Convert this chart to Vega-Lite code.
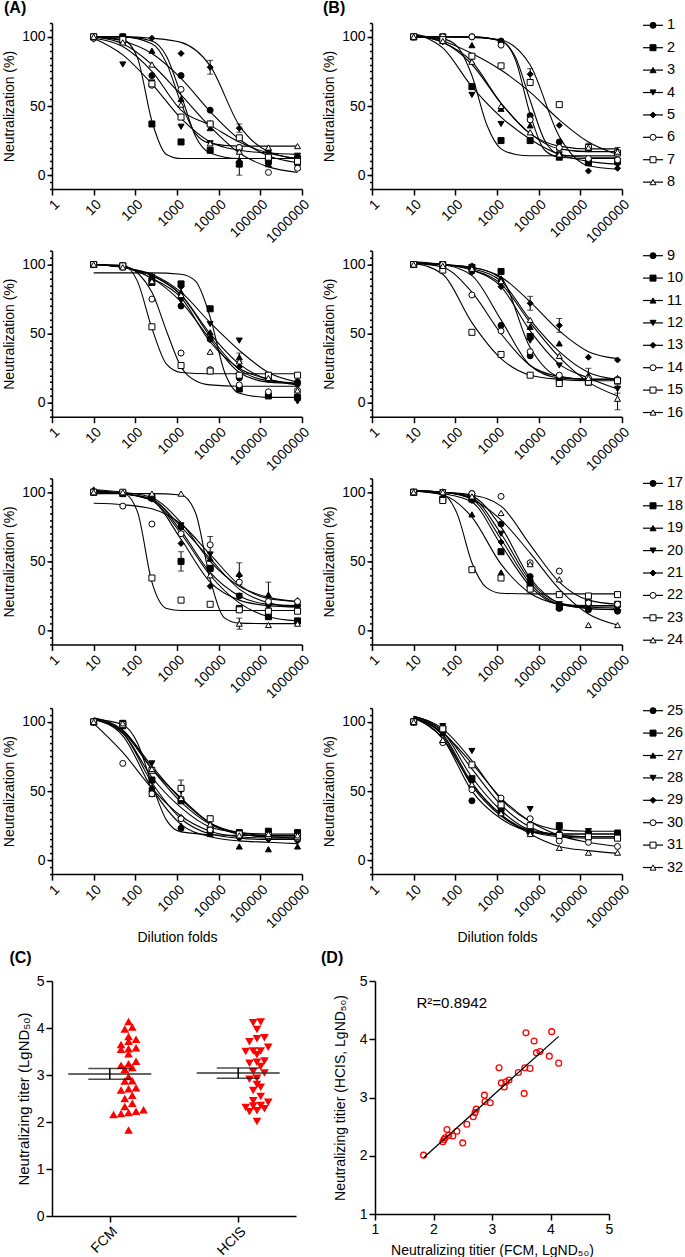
{
"$schema":"https://vega.github.io/schema/vega-lite/v6.json",
"background":"white",
"padding":{"left":2,"top":0,"right":0,"bottom":0},
"datasets":{
"lg":[{"n":1},{"n":2},{"n":3},{"n":4},{"n":5},{"n":6},{"n":7},{"n":8},{"n":9},{"n":10},{"n":11},{"n":12},{"n":13},{"n":14},{"n":15},{"n":16},{"n":17},{"n":18},{"n":19},{"n":20},{"n":21},{"n":22},{"n":23},{"n":24},{"n":25},{"n":26},{"n":27},{"n":28},{"n":29},{"n":30},{"n":31},{"n":32}],
"tt":[{"FCM":1.83,"HCIS":2.01},{"FCM":2.16,"HCIS":2.24},{"FCM":2.18,"HCIS":2.28},{"FCM":2.20,"HCIS":2.31},{"FCM":2.23,"HCIS":2.45},{"FCM":2.26,"HCIS":2.35},{"FCM":2.33,"HCIS":2.34},{"FCM":2.40,"HCIS":2.42},{"FCM":2.50,"HCIS":2.22},{"FCM":2.57,"HCIS":2.54},{"FCM":2.68,"HCIS":2.67},{"FCM":2.71,"HCIS":2.74},{"FCM":2.73,"HCIS":2.80},{"FCM":2.87,"HCIS":3.04},{"FCM":2.88,"HCIS":2.93},{"FCM":2.97,"HCIS":2.91},{"FCM":3.12,"HCIS":3.51},{"FCM":3.16,"HCIS":3.25},{"FCM":3.21,"HCIS":3.18},{"FCM":3.24,"HCIS":3.27},{"FCM":3.29,"HCIS":3.30},{"FCM":3.45,"HCIS":3.43},{"FCM":3.55,"HCIS":3.07},{"FCM":3.56,"HCIS":3.51},{"FCM":3.58,"HCIS":4.11},{"FCM":3.65,"HCIS":3.50},{"FCM":3.72,"HCIS":3.97},{"FCM":3.76,"HCIS":3.77},{"FCM":3.82,"HCIS":3.79},{"FCM":3.98,"HCIS":3.71},{"FCM":4.02,"HCIS":4.13},{"FCM":4.14,"HCIS":3.59}],
"nt":[
{"p":"A","n":1,"x":10,"y":100,"f":100},{"p":"A","n":1,"x":50,"y":100,"f":97},{"p":"A","n":1,"x":250,"y":72,"f":88},{"p":"A","n":1,"x":1250,"y":72,"f":70},{"p":"A","n":1,"x":6250,"y":47,"f":46},{"p":"A","n":1,"x":31250,"y":20,"f":26},{"p":"A","n":1,"x":156250,"y":13,"f":14},{"p":"A","n":1,"x":781250,"y":8,"f":9},
{"p":"A","n":2,"x":10,"y":100,"f":100},{"p":"A","n":2,"x":50,"y":100,"f":98},{"p":"A","n":2,"x":112,"f":85},{"p":"A","n":2,"x":250,"y":37,"f":39},{"p":"A","n":2,"x":559,"f":15},{"p":"A","n":2,"x":1250,"y":24,"f":12},{"p":"A","n":2,"x":6250,"y":18,"f":12},{"p":"A","n":2,"x":31250,"y":8,"f":12,"e":8},{"p":"A","n":2,"x":156250,"y":10,"f":12},{"p":"A","n":2,"x":781250,"y":12,"f":12},
{"p":"A","n":3,"x":10,"y":100,"f":100},{"p":"A","n":3,"x":50,"y":97,"f":100},{"p":"A","n":3,"x":250,"y":90,"f":97},{"p":"A","n":3,"x":559,"f":86},{"p":"A","n":3,"x":1250,"y":55,"f":58},{"p":"A","n":3,"x":2795,"f":28},{"p":"A","n":3,"x":6250,"y":34,"f":16},{"p":"A","n":3,"x":31250,"y":11,"f":12},{"p":"A","n":3,"x":156250,"y":8,"f":12},{"p":"A","n":3,"x":781250,"y":6,"f":12},
{"p":"A","n":4,"x":10,"y":98,"f":99},{"p":"A","n":4,"x":50,"y":80,"f":87},{"p":"A","n":4,"x":250,"y":67,"f":66},{"p":"A","n":4,"x":1250,"y":35,"f":41},{"p":"A","n":4,"x":6250,"y":23,"f":24},{"p":"A","n":4,"x":31250,"y":17,"f":18},{"p":"A","n":4,"x":156250,"y":15,"f":16},{"p":"A","n":4,"x":781250,"y":14,"f":15},
{"p":"A","n":5,"x":10,"y":100,"f":100},{"p":"A","n":5,"x":50,"y":100,"f":100},{"p":"A","n":5,"x":250,"y":99,"f":99},{"p":"A","n":5,"x":1250,"y":88,"f":96},{"p":"A","n":5,"x":6250,"y":78,"f":79,"e":5},{"p":"A","n":5,"x":31250,"y":34,"f":36,"e":3},{"p":"A","n":5,"x":156250,"y":18,"f":17},{"p":"A","n":5,"x":781250,"y":12,"f":12},
{"p":"A","n":6,"x":10,"y":99,"f":100},{"p":"A","n":6,"x":50,"y":97,"f":95},{"p":"A","n":6,"x":250,"y":65,"f":80},{"p":"A","n":6,"x":1250,"y":62,"f":58},{"p":"A","n":6,"x":6250,"y":37,"f":35},{"p":"A","n":6,"x":31250,"y":20,"f":16},{"p":"A","n":6,"x":156250,"y":2,"f":6},{"p":"A","n":6,"x":781250,"y":5,"f":2},
{"p":"A","n":7,"x":10,"y":100,"f":99},{"p":"A","n":7,"x":50,"y":98,"f":93},{"p":"A","n":7,"x":250,"y":66,"f":75},{"p":"A","n":7,"x":1250,"y":42,"f":47},{"p":"A","n":7,"x":6250,"y":37,"f":36},{"p":"A","n":7,"x":31250,"y":27,"f":24},{"p":"A","n":7,"x":156250,"y":13,"f":16},{"p":"A","n":7,"x":781250,"y":10,"f":12},
{"p":"A","n":8,"x":10,"y":100,"f":100},{"p":"A","n":8,"x":50,"y":96,"f":100},{"p":"A","n":8,"x":250,"y":80,"f":95},{"p":"A","n":8,"x":559,"f":81},{"p":"A","n":8,"x":1250,"y":51,"f":52},{"p":"A","n":8,"x":2795,"f":30},{"p":"A","n":8,"x":6250,"y":23,"f":23},{"p":"A","n":8,"x":31250,"y":17,"f":21},{"p":"A","n":8,"x":156250,"y":20,"f":21},{"p":"A","n":8,"x":781250,"y":21,"f":21},
{"p":"A","n":9,"x":10,"y":100,"f":100},{"p":"A","n":9,"x":50,"y":99,"f":98},{"p":"A","n":9,"x":250,"y":89,"f":90},{"p":"A","n":9,"x":1250,"y":70,"f":73},{"p":"A","n":9,"x":6250,"y":46,"f":46},{"p":"A","n":9,"x":31250,"y":18,"f":22},{"p":"A","n":9,"x":156250,"y":17,"f":15},{"p":"A","n":9,"x":781250,"y":15,"f":14},
{"p":"A","n":10,"x":10,"y":100,"f":94},{"p":"A","n":10,"x":50,"y":99,"f":94},{"p":"A","n":10,"x":250,"y":87,"f":94},{"p":"A","n":10,"x":1250,"y":86,"f":93},{"p":"A","n":10,"x":2795,"f":88},{"p":"A","n":10,"x":6250,"y":68,"f":62},{"p":"A","n":10,"x":13975,"f":22},{"p":"A","n":10,"x":31250,"y":10,"f":7},{"p":"A","n":10,"x":156250,"y":5,"f":4},{"p":"A","n":10,"x":781250,"y":4,"f":4},
{"p":"A","n":11,"x":10,"y":100,"f":100},{"p":"A","n":11,"x":50,"y":99,"f":98},{"p":"A","n":11,"x":250,"y":92,"f":92},{"p":"A","n":11,"x":1250,"y":80,"f":78},{"p":"A","n":11,"x":6250,"y":51,"f":50},{"p":"A","n":11,"x":31250,"y":33,"f":28,"e":3},{"p":"A","n":11,"x":156250,"y":20,"f":17},{"p":"A","n":11,"x":781250,"y":16,"f":14},
{"p":"A","n":12,"x":10,"y":100,"f":100},{"p":"A","n":12,"x":50,"y":99,"f":98},{"p":"A","n":12,"x":250,"y":91,"f":93},{"p":"A","n":12,"x":1250,"y":74,"f":80},{"p":"A","n":12,"x":6250,"y":57,"f":58},{"p":"A","n":12,"x":31250,"y":45,"f":38},{"p":"A","n":12,"x":156250,"y":20,"f":22},{"p":"A","n":12,"x":781250,"y":1,"f":15},
{"p":"A","n":13,"x":10,"y":100,"f":100},{"p":"A","n":13,"x":50,"y":99,"f":98},{"p":"A","n":13,"x":250,"y":90,"f":92},{"p":"A","n":13,"x":1250,"y":84,"f":78},{"p":"A","n":13,"x":6250,"y":47,"f":48},{"p":"A","n":13,"x":31250,"y":26,"f":24},{"p":"A","n":13,"x":156250,"y":18,"f":16},{"p":"A","n":13,"x":781250,"y":13,"f":14},
{"p":"A","n":14,"x":10,"y":100,"f":100},{"p":"A","n":14,"x":50,"y":98,"f":99},{"p":"A","n":14,"x":250,"y":75,"f":80},{"p":"A","n":14,"x":559,"f":52},{"p":"A","n":14,"x":1250,"y":36,"f":26},{"p":"A","n":14,"x":2795,"f":16},{"p":"A","n":14,"x":6250,"y":24,"f":13},{"p":"A","n":14,"x":31250,"y":13,"f":12},{"p":"A","n":14,"x":156250,"y":8,"f":12},{"p":"A","n":14,"x":781250,"y":9,"f":12},
{"p":"A","n":15,"x":10,"y":100,"f":100},{"p":"A","n":15,"x":50,"y":99,"f":99.5},{"p":"A","n":15,"x":112,"f":88},{"p":"A","n":15,"x":250,"y":55,"f":54},{"p":"A","n":15,"x":559,"f":28},{"p":"A","n":15,"x":1250,"y":27,"f":22},{"p":"A","n":15,"x":6250,"y":23,"f":21},{"p":"A","n":15,"x":31250,"y":20,"f":21},{"p":"A","n":15,"x":156250,"y":20,"f":21},{"p":"A","n":15,"x":781250,"y":20,"f":21},
{"p":"A","n":16,"x":10,"y":100,"f":100},{"p":"A","n":16,"x":50,"y":98,"f":98},{"p":"A","n":16,"x":250,"y":88,"f":90},{"p":"A","n":16,"x":1250,"y":78,"f":76},{"p":"A","n":16,"x":6250,"y":37,"f":44},{"p":"A","n":16,"x":31250,"y":30,"f":25},{"p":"A","n":16,"x":156250,"y":18,"f":17},{"p":"A","n":16,"x":781250,"y":9,"f":13},
{"p":"A","n":17,"x":10,"y":100,"f":101},{"p":"A","n":17,"x":50,"y":99,"f":99},{"p":"A","n":17,"x":250,"y":96,"f":95},{"p":"A","n":17,"x":1250,"y":75,"f":72},{"p":"A","n":17,"x":6250,"y":45,"f":42},{"p":"A","n":17,"x":31250,"y":25,"f":25},{"p":"A","n":17,"x":156250,"y":20,"f":19},{"p":"A","n":17,"x":781250,"y":18,"f":18},
{"p":"A","n":18,"x":10,"y":100,"f":101},{"p":"A","n":18,"x":50,"y":99,"f":99},{"p":"A","n":18,"x":250,"y":96,"f":94},{"p":"A","n":18,"x":1250,"y":50,"f":70,"e":7},{"p":"A","n":18,"x":6250,"y":45,"f":40},{"p":"A","n":18,"x":31250,"y":16,"f":20},{"p":"A","n":18,"x":156250,"y":10,"f":10},{"p":"A","n":18,"x":781250,"y":7,"f":7},
{"p":"A","n":19,"x":10,"y":102,"f":102},{"p":"A","n":19,"x":50,"y":100,"f":100},{"p":"A","n":19,"x":250,"y":98,"f":96},{"p":"A","n":19,"x":1250,"y":76,"f":78},{"p":"A","n":19,"x":6250,"y":52,"f":50},{"p":"A","n":19,"x":31250,"y":41,"f":32,"e":8},{"p":"A","n":19,"x":156250,"y":26,"f":24,"e":9},{"p":"A","n":19,"x":781250,"y":22,"f":21},
{"p":"A","n":20,"x":10,"y":100,"f":101},{"p":"A","n":20,"x":50,"y":99,"f":99},{"p":"A","n":20,"x":250,"y":97,"f":95},{"p":"A","n":20,"x":1250,"y":76,"f":75},{"p":"A","n":20,"x":6250,"y":55,"f":52},{"p":"A","n":20,"x":31250,"y":25,"f":30},{"p":"A","n":20,"x":156250,"y":17,"f":20},{"p":"A","n":20,"x":781250,"y":17,"f":17},
{"p":"A","n":21,"x":10,"y":100,"f":101},{"p":"A","n":21,"x":50,"y":99,"f":99},{"p":"A","n":21,"x":250,"y":95,"f":94},{"p":"A","n":21,"x":1250,"y":63,"f":66},{"p":"A","n":21,"x":6250,"y":32,"f":35},{"p":"A","n":21,"x":31250,"y":40,"f":22},{"p":"A","n":21,"x":156250,"y":20,"f":18},{"p":"A","n":21,"x":781250,"y":16,"f":17},
{"p":"A","n":22,"x":10,"y":100,"f":92},{"p":"A","n":22,"x":50,"y":90,"f":91},{"p":"A","n":22,"x":250,"y":77,"f":88},{"p":"A","n":22,"x":1250,"y":70,"f":77},{"p":"A","n":22,"x":6250,"y":62,"f":55,"e":6},{"p":"A","n":22,"x":31250,"y":35,"f":33},{"p":"A","n":22,"x":156250,"y":21,"f":23},{"p":"A","n":22,"x":781250,"y":21,"f":21},
{"p":"A","n":23,"x":10,"y":100,"f":100},{"p":"A","n":23,"x":50,"y":100,"f":99.5},{"p":"A","n":23,"x":112,"f":86},{"p":"A","n":23,"x":250,"y":38,"f":35},{"p":"A","n":23,"x":559,"f":16},{"p":"A","n":23,"x":1250,"y":22,"f":14.5},{"p":"A","n":23,"x":6250,"y":19,"f":14.5},{"p":"A","n":23,"x":31250,"y":15,"f":14.5},{"p":"A","n":23,"x":156250,"y":14,"f":14.5},{"p":"A","n":23,"x":781250,"y":14,"f":14.5},
{"p":"A","n":24,"x":10,"y":100,"f":99},{"p":"A","n":24,"x":50,"y":100,"f":99},{"p":"A","n":24,"x":250,"y":99,"f":99},{"p":"A","n":24,"x":1250,"y":99,"f":98},{"p":"A","n":24,"x":2795,"f":85},{"p":"A","n":24,"x":6250,"y":40,"f":37},{"p":"A","n":24,"x":13975,"f":9},{"p":"A","n":24,"x":31250,"y":5,"f":5.4,"e":4},{"p":"A","n":24,"x":156250,"y":4,"f":5},{"p":"A","n":24,"x":781250,"y":5,"f":5},
{"p":"A","n":25,"x":10,"y":100,"f":102},{"p":"A","n":25,"x":50,"y":98,"f":98},{"p":"A","n":25,"x":112,"f":85},{"p":"A","n":25,"x":250,"y":50,"f":55},{"p":"A","n":25,"x":559,"f":29},{"p":"A","n":25,"x":1250,"y":23,"f":20.5},{"p":"A","n":25,"x":6250,"y":20,"f":18.5},{"p":"A","n":25,"x":31250,"y":17,"f":18},{"p":"A","n":25,"x":156250,"y":17,"f":18},{"p":"A","n":25,"x":781250,"y":17,"f":18},
{"p":"A","n":26,"x":10,"y":100,"f":102},{"p":"A","n":26,"x":50,"y":99,"f":92},{"p":"A","n":26,"x":250,"y":58,"f":60},{"p":"A","n":26,"x":1250,"y":43,"f":38},{"p":"A","n":26,"x":6250,"y":22,"f":24},{"p":"A","n":26,"x":31250,"y":20,"f":20},{"p":"A","n":26,"x":156250,"y":21,"f":19},{"p":"A","n":26,"x":781250,"y":20,"f":19},
{"p":"A","n":27,"x":10,"y":100,"f":102},{"p":"A","n":27,"x":50,"y":97,"f":90},{"p":"A","n":27,"x":250,"y":48,"f":52},{"p":"A","n":27,"x":1250,"y":25,"f":26},{"p":"A","n":27,"x":6250,"y":19,"f":17},{"p":"A","n":27,"x":31250,"y":10,"f":14},{"p":"A","n":27,"x":156250,"y":8,"f":13},{"p":"A","n":27,"x":781250,"y":10,"f":12},
{"p":"A","n":28,"x":10,"y":100,"f":103},{"p":"A","n":28,"x":50,"y":98,"f":94},{"p":"A","n":28,"x":250,"y":70,"f":68},{"p":"A","n":28,"x":1250,"y":50,"f":44},{"p":"A","n":28,"x":6250,"y":28,"f":27,"e":4},{"p":"A","n":28,"x":31250,"y":18,"f":19},{"p":"A","n":28,"x":156250,"y":17,"f":17},{"p":"A","n":28,"x":781250,"y":15,"f":16},
{"p":"A","n":29,"x":10,"y":100,"f":102},{"p":"A","n":29,"x":50,"y":97,"f":92},{"p":"A","n":29,"x":250,"y":52,"f":56},{"p":"A","n":29,"x":1250,"y":31,"f":30},{"p":"A","n":29,"x":6250,"y":22,"f":19},{"p":"A","n":29,"x":31250,"y":16,"f":16},{"p":"A","n":29,"x":156250,"y":15,"f":15},{"p":"A","n":29,"x":781250,"y":14,"f":15},
{"p":"A","n":30,"x":10,"y":100,"f":99},{"p":"A","n":30,"x":50,"y":70,"f":78},{"p":"A","n":30,"x":250,"y":48,"f":52},{"p":"A","n":30,"x":1250,"y":30,"f":32},{"p":"A","n":30,"x":6250,"y":22,"f":21},{"p":"A","n":30,"x":31250,"y":18,"f":17},{"p":"A","n":30,"x":156250,"y":17,"f":16},{"p":"A","n":30,"x":781250,"y":16,"f":16},
{"p":"A","n":31,"x":10,"y":100,"f":102},{"p":"A","n":31,"x":50,"y":98,"f":93},{"p":"A","n":31,"x":250,"y":65,"f":66},{"p":"A","n":31,"x":1250,"y":52,"f":45,"e":6},{"p":"A","n":31,"x":6250,"y":30,"f":27},{"p":"A","n":31,"x":31250,"y":19,"f":20},{"p":"A","n":31,"x":156250,"y":18,"f":18},{"p":"A","n":31,"x":781250,"y":17,"f":18},
{"p":"A","n":32,"x":10,"y":100,"f":102},{"p":"A","n":32,"x":50,"y":99,"f":94},{"p":"A","n":32,"x":250,"y":66,"f":66},{"p":"A","n":32,"x":1250,"y":45,"f":42},{"p":"A","n":32,"x":6250,"y":26,"f":26},{"p":"A","n":32,"x":31250,"y":18,"f":19},{"p":"A","n":32,"x":156250,"y":19,"f":17},{"p":"A","n":32,"x":781250,"y":18,"f":17},
{"p":"B","n":1,"x":10,"y":100,"f":100},{"p":"B","n":1,"x":50,"y":100,"f":100},{"p":"B","n":1,"x":250,"y":100,"f":100},{"p":"B","n":1,"x":1250,"y":97,"f":97},{"p":"B","n":1,"x":2795,"f":83},{"p":"B","n":1,"x":6250,"y":43,"f":44},{"p":"B","n":1,"x":13975,"f":18},{"p":"B","n":1,"x":31250,"y":24,"f":13},{"p":"B","n":1,"x":156250,"y":9,"f":12},{"p":"B","n":1,"x":781250,"y":10,"f":12},
{"p":"B","n":2,"x":10,"y":100,"f":100},{"p":"B","n":2,"x":50,"y":100,"f":98.5},{"p":"B","n":2,"x":112,"f":93},{"p":"B","n":2,"x":250,"y":64,"f":72},{"p":"B","n":2,"x":559,"f":37},{"p":"B","n":2,"x":1250,"y":25,"f":19},{"p":"B","n":2,"x":2795,"f":15},{"p":"B","n":2,"x":6250,"y":25,"f":14},{"p":"B","n":2,"x":31250,"y":13,"f":14},{"p":"B","n":2,"x":156250,"y":9,"f":14},{"p":"B","n":2,"x":781250,"y":10,"f":14},
{"p":"B","n":3,"x":10,"y":100,"f":101},{"p":"B","n":3,"x":50,"y":97,"f":96},{"p":"B","n":3,"x":250,"y":94,"f":82},{"p":"B","n":3,"x":1250,"y":48,"f":52},{"p":"B","n":3,"x":6250,"y":36,"f":30},{"p":"B","n":3,"x":31250,"y":20,"f":21},{"p":"B","n":3,"x":156250,"y":20,"f":19},{"p":"B","n":3,"x":781250,"y":18,"f":19},
{"p":"B","n":4,"x":10,"y":100,"f":102},{"p":"B","n":4,"x":50,"y":96,"f":92},{"p":"B","n":4,"x":250,"y":58,"f":64},{"p":"B","n":4,"x":1250,"y":37,"f":42},{"p":"B","n":4,"x":6250,"y":39,"f":26},{"p":"B","n":4,"x":31250,"y":15,"f":15},{"p":"B","n":4,"x":156250,"y":10,"f":10},{"p":"B","n":4,"x":781250,"y":7,"f":8},
{"p":"B","n":5,"x":10,"y":100,"f":100},{"p":"B","n":5,"x":50,"y":100,"f":100},{"p":"B","n":5,"x":250,"y":100,"f":99.6},{"p":"B","n":5,"x":1250,"y":96,"f":97.7},{"p":"B","n":5,"x":6250,"y":73,"f":79.6,"e":4},{"p":"B","n":5,"x":31250,"y":36,"f":28},{"p":"B","n":5,"x":156250,"y":3,"f":6.8},{"p":"B","n":5,"x":781250,"y":5,"f":4.3},
{"p":"B","n":6,"x":10,"y":100,"f":100},{"p":"B","n":6,"x":50,"y":100,"f":100},{"p":"B","n":6,"x":250,"y":100,"f":100},{"p":"B","n":6,"x":1250,"y":94,"f":97},{"p":"B","n":6,"x":2795,"f":85},{"p":"B","n":6,"x":6250,"y":40,"f":54},{"p":"B","n":6,"x":13975,"f":25},{"p":"B","n":6,"x":31250,"y":20,"f":15},{"p":"B","n":6,"x":156250,"y":12,"f":13},{"p":"B","n":6,"x":781250,"y":11,"f":13},
{"p":"B","n":7,"x":10,"y":100,"f":102},{"p":"B","n":7,"x":50,"y":98,"f":97},{"p":"B","n":7,"x":250,"y":86,"f":88},{"p":"B","n":7,"x":1250,"y":79,"f":76},{"p":"B","n":7,"x":6250,"y":67,"f":60},{"p":"B","n":7,"x":31250,"y":51,"f":40},{"p":"B","n":7,"x":156250,"y":20,"f":24},{"p":"B","n":7,"x":781250,"y":16,"f":15},
{"p":"B","n":8,"x":10,"y":100,"f":101},{"p":"B","n":8,"x":50,"y":97,"f":96},{"p":"B","n":8,"x":250,"y":82,"f":80},{"p":"B","n":8,"x":1250,"y":50,"f":52},{"p":"B","n":8,"x":6250,"y":31,"f":30},{"p":"B","n":8,"x":31250,"y":15,"f":19},{"p":"B","n":8,"x":156250,"y":20,"f":17,"e":3},{"p":"B","n":8,"x":781250,"y":17,"f":17,"e":3},
{"p":"B","n":9,"x":10,"y":100,"f":102},{"p":"B","n":9,"x":50,"y":100,"f":100},{"p":"B","n":9,"x":250,"y":95,"f":92},{"p":"B","n":9,"x":1250,"y":56,"f":60},{"p":"B","n":9,"x":6250,"y":34,"f":27},{"p":"B","n":9,"x":31250,"y":18,"f":18},{"p":"B","n":9,"x":156250,"y":15,"f":17},{"p":"B","n":9,"x":781250,"y":16,"f":17},
{"p":"B","n":10,"x":10,"y":100,"f":101},{"p":"B","n":10,"x":50,"y":100,"f":100},{"p":"B","n":10,"x":250,"y":98,"f":98},{"p":"B","n":10,"x":1250,"y":95,"f":90},{"p":"B","n":10,"x":6250,"y":48,"f":40},{"p":"B","n":10,"x":31250,"y":17,"f":19},{"p":"B","n":10,"x":156250,"y":15,"f":17},{"p":"B","n":10,"x":781250,"y":16,"f":17},
{"p":"B","n":11,"x":10,"y":100,"f":101},{"p":"B","n":11,"x":50,"y":100,"f":100},{"p":"B","n":11,"x":250,"y":98,"f":97},{"p":"B","n":11,"x":1250,"y":90,"f":88},{"p":"B","n":11,"x":6250,"y":55,"f":60},{"p":"B","n":11,"x":31250,"y":43,"f":37},{"p":"B","n":11,"x":156250,"y":20,"f":22,"e":5},{"p":"B","n":11,"x":781250,"y":18,"f":17},
{"p":"B","n":12,"x":10,"y":100,"f":101},{"p":"B","n":12,"x":50,"y":100,"f":100},{"p":"B","n":12,"x":250,"y":96,"f":96},{"p":"B","n":12,"x":1250,"y":86,"f":84},{"p":"B","n":12,"x":6250,"y":45,"f":52},{"p":"B","n":12,"x":31250,"y":27,"f":28},{"p":"B","n":12,"x":156250,"y":16,"f":18},{"p":"B","n":12,"x":781250,"y":10,"f":10,"e":3},
{"p":"B","n":13,"x":10,"y":100,"f":101},{"p":"B","n":13,"x":50,"y":100,"f":100},{"p":"B","n":13,"x":250,"y":99,"f":98},{"p":"B","n":13,"x":1250,"y":84,"f":91},{"p":"B","n":13,"x":6250,"y":72,"f":73,"e":5},{"p":"B","n":13,"x":31250,"y":56,"f":52,"e":5},{"p":"B","n":13,"x":156250,"y":33,"f":37},{"p":"B","n":13,"x":781250,"y":31,"f":32},
{"p":"B","n":14,"x":10,"y":100,"f":101},{"p":"B","n":14,"x":50,"y":100,"f":98},{"p":"B","n":14,"x":250,"y":78,"f":80},{"p":"B","n":14,"x":1250,"y":52,"f":50},{"p":"B","n":14,"x":6250,"y":37,"f":27},{"p":"B","n":14,"x":31250,"y":20,"f":19},{"p":"B","n":14,"x":156250,"y":18,"f":17},{"p":"B","n":14,"x":781250,"y":17,"f":17},
{"p":"B","n":15,"x":10,"y":100,"f":101},{"p":"B","n":15,"x":50,"y":96,"f":93},{"p":"B","n":15,"x":250,"y":51,"f":58},{"p":"B","n":15,"x":1250,"y":35,"f":32},{"p":"B","n":15,"x":6250,"y":20,"f":20},{"p":"B","n":15,"x":31250,"y":14,"f":17},{"p":"B","n":15,"x":156250,"y":15,"f":16},{"p":"B","n":15,"x":781250,"y":16,"f":16},
{"p":"B","n":16,"x":10,"y":100,"f":101},{"p":"B","n":16,"x":50,"y":99,"f":100},{"p":"B","n":16,"x":250,"y":97,"f":96},{"p":"B","n":16,"x":1250,"y":88,"f":86},{"p":"B","n":16,"x":6250,"y":60,"f":58},{"p":"B","n":16,"x":31250,"y":34,"f":33},{"p":"B","n":16,"x":156250,"y":18,"f":15},{"p":"B","n":16,"x":781250,"y":3,"f":5,"e":8},
{"p":"B","n":17,"x":10,"y":100,"f":101},{"p":"B","n":17,"x":50,"y":100,"f":100},{"p":"B","n":17,"x":250,"y":99,"f":97},{"p":"B","n":17,"x":1250,"y":77,"f":75},{"p":"B","n":17,"x":6250,"y":39,"f":38},{"p":"B","n":17,"x":31250,"y":16,"f":20},{"p":"B","n":17,"x":156250,"y":15,"f":16},{"p":"B","n":17,"x":781250,"y":14,"f":15},
{"p":"B","n":18,"x":10,"y":100,"f":101},{"p":"B","n":18,"x":50,"y":95,"f":99},{"p":"B","n":18,"x":250,"y":95,"f":93},{"p":"B","n":18,"x":1250,"y":57,"f":62},{"p":"B","n":18,"x":6250,"y":33,"f":32},{"p":"B","n":18,"x":31250,"y":17,"f":19},{"p":"B","n":18,"x":156250,"y":20,"f":18},{"p":"B","n":18,"x":781250,"y":19,"f":18},
{"p":"B","n":19,"x":10,"y":100,"f":101},{"p":"B","n":19,"x":50,"y":97,"f":98},{"p":"B","n":19,"x":250,"y":84,"f":82},{"p":"B","n":19,"x":1250,"y":42,"f":48},{"p":"B","n":19,"x":6250,"y":30,"f":27},{"p":"B","n":19,"x":31250,"y":18,"f":19},{"p":"B","n":19,"x":156250,"y":17,"f":17},{"p":"B","n":19,"x":781250,"y":16,"f":16},
{"p":"B","n":20,"x":10,"y":100,"f":101},{"p":"B","n":20,"x":50,"y":100,"f":100},{"p":"B","n":20,"x":250,"y":96,"f":96},{"p":"B","n":20,"x":1250,"y":70,"f":70},{"p":"B","n":20,"x":6250,"y":35,"f":36},{"p":"B","n":20,"x":31250,"y":19,"f":20},{"p":"B","n":20,"x":156250,"y":17,"f":17},{"p":"B","n":20,"x":781250,"y":17,"f":17},
{"p":"B","n":21,"x":10,"y":100,"f":101},{"p":"B","n":21,"x":50,"y":100,"f":100},{"p":"B","n":21,"x":250,"y":94,"f":95},{"p":"B","n":21,"x":1250,"y":64,"f":66},{"p":"B","n":21,"x":6250,"y":36,"f":34},{"p":"B","n":21,"x":31250,"y":18,"f":19},{"p":"B","n":21,"x":156250,"y":16,"f":16},{"p":"B","n":21,"x":781250,"y":15,"f":15},
{"p":"B","n":22,"x":10,"y":100,"f":101},{"p":"B","n":22,"x":50,"y":100,"f":100},{"p":"B","n":22,"x":250,"y":99,"f":98},{"p":"B","n":22,"x":1250,"y":97,"f":90},{"p":"B","n":22,"x":6250,"y":49,"f":62},{"p":"B","n":22,"x":31250,"y":43,"f":35},{"p":"B","n":22,"x":156250,"y":20,"f":22},{"p":"B","n":22,"x":781250,"y":19,"f":19},
{"p":"B","n":23,"x":10,"y":100,"f":101},{"p":"B","n":23,"x":50,"y":94,"f":98.5},{"p":"B","n":23,"x":112,"f":84},{"p":"B","n":23,"x":250,"y":44,"f":49},{"p":"B","n":23,"x":559,"f":31},{"p":"B","n":23,"x":1250,"y":38,"f":27},{"p":"B","n":23,"x":6250,"y":30,"f":26.5},{"p":"B","n":23,"x":31250,"y":26,"f":26.5},{"p":"B","n":23,"x":156250,"y":25,"f":26.5},{"p":"B","n":23,"x":781250,"y":26,"f":26.5},
{"p":"B","n":24,"x":10,"y":100,"f":101},{"p":"B","n":24,"x":50,"y":100,"f":100},{"p":"B","n":24,"x":250,"y":97,"f":95},{"p":"B","n":24,"x":1250,"y":85,"f":80},{"p":"B","n":24,"x":6250,"y":48,"f":56},{"p":"B","n":24,"x":31250,"y":37,"f":30},{"p":"B","n":24,"x":156250,"y":4,"f":12},{"p":"B","n":24,"x":781250,"y":4,"f":4},
{"p":"B","n":25,"x":10,"y":100,"f":103},{"p":"B","n":25,"x":50,"y":93,"f":88},{"p":"B","n":25,"x":250,"y":43,"f":50},{"p":"B","n":25,"x":1250,"y":35,"f":30},{"p":"B","n":25,"x":6250,"y":22,"f":21},{"p":"B","n":25,"x":31250,"y":19,"f":19},{"p":"B","n":25,"x":156250,"y":19,"f":19},{"p":"B","n":25,"x":781250,"y":19,"f":19},
{"p":"B","n":26,"x":10,"y":100,"f":104},{"p":"B","n":26,"x":50,"y":95,"f":93},{"p":"B","n":26,"x":250,"y":59,"f":60},{"p":"B","n":26,"x":1250,"y":38,"f":36},{"p":"B","n":26,"x":6250,"y":21,"f":22},{"p":"B","n":26,"x":31250,"y":25,"f":19},{"p":"B","n":26,"x":156250,"y":19,"f":19},{"p":"B","n":26,"x":781250,"y":19,"f":19},
{"p":"B","n":27,"x":10,"y":100,"f":103},{"p":"B","n":27,"x":50,"y":92,"f":90},{"p":"B","n":27,"x":250,"y":54,"f":54},{"p":"B","n":27,"x":1250,"y":35,"f":32},{"p":"B","n":27,"x":6250,"y":21,"f":21},{"p":"B","n":27,"x":31250,"y":18,"f":18},{"p":"B","n":27,"x":156250,"y":17,"f":17},{"p":"B","n":27,"x":781250,"y":17,"f":17},
{"p":"B","n":28,"x":10,"y":100,"f":104},{"p":"B","n":28,"x":50,"y":97,"f":95},{"p":"B","n":28,"x":250,"y":79,"f":72},{"p":"B","n":28,"x":1250,"y":41,"f":44},{"p":"B","n":28,"x":6250,"y":37,"f":28},{"p":"B","n":28,"x":31250,"y":22,"f":22},{"p":"B","n":28,"x":156250,"y":21,"f":21},{"p":"B","n":28,"x":781250,"y":20,"f":21},
{"p":"B","n":29,"x":10,"y":100,"f":103},{"p":"B","n":29,"x":50,"y":93,"f":91},{"p":"B","n":29,"x":250,"y":57,"f":56},{"p":"B","n":29,"x":1250,"y":36,"f":33},{"p":"B","n":29,"x":6250,"y":20,"f":21},{"p":"B","n":29,"x":31250,"y":17,"f":17},{"p":"B","n":29,"x":156250,"y":16,"f":16},{"p":"B","n":29,"x":781250,"y":16,"f":16},
{"p":"B","n":30,"x":10,"y":100,"f":103},{"p":"B","n":30,"x":50,"y":85,"f":92},{"p":"B","n":30,"x":250,"y":51,"f":70},{"p":"B","n":30,"x":1250,"y":45,"f":45},{"p":"B","n":30,"x":6250,"y":30,"f":28},{"p":"B","n":30,"x":31250,"y":14,"f":18},{"p":"B","n":30,"x":156250,"y":13,"f":13},{"p":"B","n":30,"x":781250,"y":10,"f":10},
{"p":"B","n":31,"x":10,"y":100,"f":104},{"p":"B","n":31,"x":50,"y":95,"f":93},{"p":"B","n":31,"x":250,"y":69,"f":66},{"p":"B","n":31,"x":1250,"y":40,"f":40},{"p":"B","n":31,"x":6250,"y":25,"f":24},{"p":"B","n":31,"x":31250,"y":18,"f":18},{"p":"B","n":31,"x":156250,"y":17,"f":17},{"p":"B","n":31,"x":781250,"y":16,"f":17},
{"p":"B","n":32,"x":10,"y":100,"f":103},{"p":"B","n":32,"x":50,"y":87,"f":88},{"p":"B","n":32,"x":250,"y":55,"f":55},{"p":"B","n":32,"x":1250,"y":34,"f":33},{"p":"B","n":32,"x":6250,"y":19,"f":19},{"p":"B","n":32,"x":31250,"y":9,"f":10},{"p":"B","n":32,"x":156250,"y":5.5,"f":7},{"p":"B","n":32,"x":781250,"y":5.5,"f":5}
]},
"vconcat":[
{"vconcat":[
{"hconcat":[
{"width":250,"height":166,"title":{"text":"(A)","dx":-48,"offset":6},"data":{"name":"nt"},"resolve":{"axis":{"y":"independent"}},
"encoding":{"x":{"field":"x","type":"quantitative","scale":{"type":"log","domain":[1,1000000]},"axis":{"title":null,"values":[1,10,100,1000,10000,100000,1000000],"format":"d","labelAngle":-45,"labelAlign":"right","labelBaseline":"top","tickSize":6}}},
"layer":[
{"data":{"values":[{}]},"mark":{"type":"rule","color":"black","strokeWidth":2.2,"strokeDash":[2.2,2.6]},"encoding":{"x":{"datum":1.25,"type":"quantitative"},"x2":{"datum":781250},"y":{"datum":0,"type":"quantitative","axis":{"orient":"left","values":[-10,-5,0,5,10,15,20,25,30,35,40,45,50,55,60,65,70,75,80,85,90,95,100,105,110],"labels":false,"tickSize":2.5,"title":null,"domain":false}}}},
{"transform":[{"filter":"datum.p=='A'&&datum.n>=1&&datum.n<=8"}],"mark":{"type":"line","interpolate":"monotone","color":"black","strokeWidth":1.1},"encoding":{"y":{"field":"f","type":"quantitative","scale":{"domain":[-10,110],"nice":false},"axis":{"orient":"left","title":"Neutralization (%)","titleX":-36,"values":[0,50,100],"tickSize":5}},"detail":{"field":"n","type":"nominal"}}},
{"transform":[{"filter":"datum.p=='A'&&datum.n>=1&&datum.n<=8&&datum.e>0"}],"mark":{"type":"errorbar","color":"black","thickness":1,"ticks":{"size":6}},"encoding":{"y":{"field":"y","type":"quantitative","axis":null},"yError":{"field":"e"}}},
{"transform":[{"filter":"datum.p=='A'&&datum.n>=1&&datum.n<=8&&isValid(datum.y)"}],"mark":{"type":"point","filled":true,"stroke":"black","strokeWidth":1,"opacity":1,"size":36},"encoding":{"y":{"field":"y","type":"quantitative","axis":null},"shape":{"field":"n","type":"nominal","legend":null,"scale":{"domain":[1,2,3,4,5,6,7,8,9,10,11,12,13,14,15,16,17,18,19,20,21,22,23,24,25,26,27,28,29,30,31,32],"range":["circle","square","triangle-up","triangle-down","diamond","circle","square","triangle-up"]}},"fill":{"field":"n","type":"nominal","legend":null,"scale":{"domain":[1,2,3,4,5,6,7,8,9,10,11,12,13,14,15,16,17,18,19,20,21,22,23,24,25,26,27,28,29,30,31,32],"range":["black","black","black","black","black","white","white","white"]}}}}
]},
{"width":250,"height":166,"title":{"text":"(B)","dx":-49,"offset":6},"data":{"name":"nt"},"resolve":{"axis":{"y":"independent"}},
"encoding":{"x":{"field":"x","type":"quantitative","scale":{"type":"log","domain":[1,1000000]},"axis":{"title":null,"values":[1,10,100,1000,10000,100000,1000000],"format":"d","labelAngle":-45,"labelAlign":"right","labelBaseline":"top","tickSize":6}}},
"layer":[
{"data":{"values":[{}]},"mark":{"type":"rule","color":"black","strokeWidth":2.2,"strokeDash":[2.2,2.6]},"encoding":{"x":{"datum":1.25,"type":"quantitative"},"x2":{"datum":781250},"y":{"datum":0,"type":"quantitative","axis":{"orient":"left","values":[-10,-5,0,5,10,15,20,25,30,35,40,45,50,55,60,65,70,75,80,85,90,95,100,105,110],"labels":false,"tickSize":2.5,"title":null,"domain":false}}}},
{"transform":[{"filter":"datum.p=='B'&&datum.n>=1&&datum.n<=8"}],"mark":{"type":"line","interpolate":"monotone","color":"black","strokeWidth":1.1},"encoding":{"y":{"field":"f","type":"quantitative","scale":{"domain":[-10,110],"nice":false},"axis":{"orient":"left","title":"Neutralization (%)","titleX":-36,"values":[0,50,100],"tickSize":5}},"detail":{"field":"n","type":"nominal"}}},
{"transform":[{"filter":"datum.p=='B'&&datum.n>=1&&datum.n<=8&&datum.e>0"}],"mark":{"type":"errorbar","color":"black","thickness":1,"ticks":{"size":6}},"encoding":{"y":{"field":"y","type":"quantitative","axis":null},"yError":{"field":"e"}}},
{"transform":[{"filter":"datum.p=='B'&&datum.n>=1&&datum.n<=8&&isValid(datum.y)"}],"mark":{"type":"point","filled":true,"stroke":"black","strokeWidth":1,"opacity":1,"size":36},"encoding":{"y":{"field":"y","type":"quantitative","axis":null},"shape":{"field":"n","type":"nominal","legend":null,"scale":{"domain":[1,2,3,4,5,6,7,8,9,10,11,12,13,14,15,16,17,18,19,20,21,22,23,24,25,26,27,28,29,30,31,32],"range":["circle","square","triangle-up","triangle-down","diamond","circle","square","triangle-up"]}},"fill":{"field":"n","type":"nominal","legend":null,"scale":{"domain":[1,2,3,4,5,6,7,8,9,10,11,12,13,14,15,16,17,18,19,20,21,22,23,24,25,26,27,28,29,30,31,32],"range":["black","black","black","black","black","white","white","white"]}}}}
]},
{"width":44,"height":166,"data":{"name":"lg"},"transform":[{"filter":"datum.n>=1&&datum.n<=8"}],
"encoding":{"y":{"field":"n","type":"quantitative","axis":null,"scale":{"domain":[0.897,8.307],"reverse":true,"nice":false,"zero":false}}},
"layer":[
{"mark":{"type":"rule","color":"black","strokeWidth":1.2},"encoding":{"x":{"datum":0,"type":"quantitative","scale":{"domain":[0,2.2],"nice":false},"axis":null},"x2":{"datum":1}}},
{"mark":{"type":"point","filled":true,"stroke":"black","strokeWidth":1,"opacity":1,"size":36},"encoding":{"x":{"datum":0.5,"type":"quantitative"},"shape":{"field":"n","type":"nominal","legend":null,"scale":{"domain":[1,2,3,4,5,6,7,8,9,10,11,12,13,14,15,16,17,18,19,20,21,22,23,24,25,26,27,28,29,30,31,32],"range":["circle","square","triangle-up","triangle-down","diamond","circle","square","triangle-up"]}},"fill":{"field":"n","type":"nominal","legend":null,"scale":{"domain":[1,2,3,4,5,6,7,8,9,10,11,12,13,14,15,16,17,18,19,20,21,22,23,24,25,26,27,28,29,30,31,32],"range":["black","black","black","black","black","white","white","white"]}}}},
{"mark":{"type":"text","align":"left","baseline":"middle","fontSize":14.5,"color":"black"},"encoding":{"x":{"datum":1.2,"type":"quantitative"},"text":{"field":"n","type":"nominal"}}}
]}
],"spacing":10,"resolve":{"scale":{"x":"independent","y":"independent"}}},
{"hconcat":[
{"width":250,"height":166,"data":{"name":"nt"},"resolve":{"axis":{"y":"independent"}},
"encoding":{"x":{"field":"x","type":"quantitative","scale":{"type":"log","domain":[1,1000000]},"axis":{"title":null,"values":[1,10,100,1000,10000,100000,1000000],"format":"d","labelAngle":-45,"labelAlign":"right","labelBaseline":"top","tickSize":6}}},
"layer":[
{"data":{"values":[{}]},"mark":{"type":"rule","color":"black","strokeWidth":2.2,"strokeDash":[2.2,2.6]},"encoding":{"x":{"datum":1.25,"type":"quantitative"},"x2":{"datum":781250},"y":{"datum":0,"type":"quantitative","axis":{"orient":"left","values":[-10,-5,0,5,10,15,20,25,30,35,40,45,50,55,60,65,70,75,80,85,90,95,100,105,110],"labels":false,"tickSize":2.5,"title":null,"domain":false}}}},
{"transform":[{"filter":"datum.p=='A'&&datum.n>=9&&datum.n<=16"}],"mark":{"type":"line","interpolate":"monotone","color":"black","strokeWidth":1.1},"encoding":{"y":{"field":"f","type":"quantitative","scale":{"domain":[-10,110],"nice":false},"axis":{"orient":"left","title":"Neutralization (%)","titleX":-36,"values":[0,50,100],"tickSize":5}},"detail":{"field":"n","type":"nominal"}}},
{"transform":[{"filter":"datum.p=='A'&&datum.n>=9&&datum.n<=16&&datum.e>0"}],"mark":{"type":"errorbar","color":"black","thickness":1,"ticks":{"size":6}},"encoding":{"y":{"field":"y","type":"quantitative","axis":null},"yError":{"field":"e"}}},
{"transform":[{"filter":"datum.p=='A'&&datum.n>=9&&datum.n<=16&&isValid(datum.y)"}],"mark":{"type":"point","filled":true,"stroke":"black","strokeWidth":1,"opacity":1,"size":36},"encoding":{"y":{"field":"y","type":"quantitative","axis":null},"shape":{"field":"n","type":"nominal","legend":null,"scale":{"domain":[1,2,3,4,5,6,7,8,9,10,11,12,13,14,15,16,17,18,19,20,21,22,23,24,25,26,27,28,29,30,31,32],"range":["circle","square","triangle-up","triangle-down","diamond","circle","square","triangle-up"]}},"fill":{"field":"n","type":"nominal","legend":null,"scale":{"domain":[1,2,3,4,5,6,7,8,9,10,11,12,13,14,15,16,17,18,19,20,21,22,23,24,25,26,27,28,29,30,31,32],"range":["black","black","black","black","black","white","white","white"]}}}}
]},
{"width":250,"height":166,"data":{"name":"nt"},"resolve":{"axis":{"y":"independent"}},
"encoding":{"x":{"field":"x","type":"quantitative","scale":{"type":"log","domain":[1,1000000]},"axis":{"title":null,"values":[1,10,100,1000,10000,100000,1000000],"format":"d","labelAngle":-45,"labelAlign":"right","labelBaseline":"top","tickSize":6}}},
"layer":[
{"data":{"values":[{}]},"mark":{"type":"rule","color":"black","strokeWidth":2.2,"strokeDash":[2.2,2.6]},"encoding":{"x":{"datum":1.25,"type":"quantitative"},"x2":{"datum":781250},"y":{"datum":0,"type":"quantitative","axis":{"orient":"left","values":[-10,-5,0,5,10,15,20,25,30,35,40,45,50,55,60,65,70,75,80,85,90,95,100,105,110],"labels":false,"tickSize":2.5,"title":null,"domain":false}}}},
{"transform":[{"filter":"datum.p=='B'&&datum.n>=9&&datum.n<=16"}],"mark":{"type":"line","interpolate":"monotone","color":"black","strokeWidth":1.1},"encoding":{"y":{"field":"f","type":"quantitative","scale":{"domain":[-10,110],"nice":false},"axis":{"orient":"left","title":"Neutralization (%)","titleX":-36,"values":[0,50,100],"tickSize":5}},"detail":{"field":"n","type":"nominal"}}},
{"transform":[{"filter":"datum.p=='B'&&datum.n>=9&&datum.n<=16&&datum.e>0"}],"mark":{"type":"errorbar","color":"black","thickness":1,"ticks":{"size":6}},"encoding":{"y":{"field":"y","type":"quantitative","axis":null},"yError":{"field":"e"}}},
{"transform":[{"filter":"datum.p=='B'&&datum.n>=9&&datum.n<=16&&isValid(datum.y)"}],"mark":{"type":"point","filled":true,"stroke":"black","strokeWidth":1,"opacity":1,"size":36},"encoding":{"y":{"field":"y","type":"quantitative","axis":null},"shape":{"field":"n","type":"nominal","legend":null,"scale":{"domain":[1,2,3,4,5,6,7,8,9,10,11,12,13,14,15,16,17,18,19,20,21,22,23,24,25,26,27,28,29,30,31,32],"range":["circle","square","triangle-up","triangle-down","diamond","circle","square","triangle-up"]}},"fill":{"field":"n","type":"nominal","legend":null,"scale":{"domain":[1,2,3,4,5,6,7,8,9,10,11,12,13,14,15,16,17,18,19,20,21,22,23,24,25,26,27,28,29,30,31,32],"range":["black","black","black","black","black","white","white","white"]}}}}
]},
{"width":44,"height":166,"data":{"name":"lg"},"transform":[{"filter":"datum.n>=9&&datum.n<=16"}],
"encoding":{"y":{"field":"n","type":"quantitative","axis":null,"scale":{"domain":[8.777,16.187],"reverse":true,"nice":false,"zero":false}}},
"layer":[
{"mark":{"type":"rule","color":"black","strokeWidth":1.2},"encoding":{"x":{"datum":0,"type":"quantitative","scale":{"domain":[0,2.2],"nice":false},"axis":null},"x2":{"datum":1}}},
{"mark":{"type":"point","filled":true,"stroke":"black","strokeWidth":1,"opacity":1,"size":36},"encoding":{"x":{"datum":0.5,"type":"quantitative"},"shape":{"field":"n","type":"nominal","legend":null,"scale":{"domain":[1,2,3,4,5,6,7,8,9,10,11,12,13,14,15,16,17,18,19,20,21,22,23,24,25,26,27,28,29,30,31,32],"range":["circle","square","triangle-up","triangle-down","diamond","circle","square","triangle-up"]}},"fill":{"field":"n","type":"nominal","legend":null,"scale":{"domain":[1,2,3,4,5,6,7,8,9,10,11,12,13,14,15,16,17,18,19,20,21,22,23,24,25,26,27,28,29,30,31,32],"range":["black","black","black","black","black","white","white","white"]}}}},
{"mark":{"type":"text","align":"left","baseline":"middle","fontSize":14.5,"color":"black"},"encoding":{"x":{"datum":1.2,"type":"quantitative"},"text":{"field":"n","type":"nominal"}}}
]}
],"spacing":10,"resolve":{"scale":{"x":"independent","y":"independent"}}},
{"hconcat":[
{"width":250,"height":166,"data":{"name":"nt"},"resolve":{"axis":{"y":"independent"}},
"encoding":{"x":{"field":"x","type":"quantitative","scale":{"type":"log","domain":[1,1000000]},"axis":{"title":null,"values":[1,10,100,1000,10000,100000,1000000],"format":"d","labelAngle":-45,"labelAlign":"right","labelBaseline":"top","tickSize":6}}},
"layer":[
{"data":{"values":[{}]},"mark":{"type":"rule","color":"black","strokeWidth":2.2,"strokeDash":[2.2,2.6]},"encoding":{"x":{"datum":1.25,"type":"quantitative"},"x2":{"datum":781250},"y":{"datum":0,"type":"quantitative","axis":{"orient":"left","values":[-10,-5,0,5,10,15,20,25,30,35,40,45,50,55,60,65,70,75,80,85,90,95,100,105,110],"labels":false,"tickSize":2.5,"title":null,"domain":false}}}},
{"transform":[{"filter":"datum.p=='A'&&datum.n>=17&&datum.n<=24"}],"mark":{"type":"line","interpolate":"monotone","color":"black","strokeWidth":1.1},"encoding":{"y":{"field":"f","type":"quantitative","scale":{"domain":[-10,110],"nice":false},"axis":{"orient":"left","title":"Neutralization (%)","titleX":-36,"values":[0,50,100],"tickSize":5}},"detail":{"field":"n","type":"nominal"}}},
{"transform":[{"filter":"datum.p=='A'&&datum.n>=17&&datum.n<=24&&datum.e>0"}],"mark":{"type":"errorbar","color":"black","thickness":1,"ticks":{"size":6}},"encoding":{"y":{"field":"y","type":"quantitative","axis":null},"yError":{"field":"e"}}},
{"transform":[{"filter":"datum.p=='A'&&datum.n>=17&&datum.n<=24&&isValid(datum.y)"}],"mark":{"type":"point","filled":true,"stroke":"black","strokeWidth":1,"opacity":1,"size":36},"encoding":{"y":{"field":"y","type":"quantitative","axis":null},"shape":{"field":"n","type":"nominal","legend":null,"scale":{"domain":[1,2,3,4,5,6,7,8,9,10,11,12,13,14,15,16,17,18,19,20,21,22,23,24,25,26,27,28,29,30,31,32],"range":["circle","square","triangle-up","triangle-down","diamond","circle","square","triangle-up"]}},"fill":{"field":"n","type":"nominal","legend":null,"scale":{"domain":[1,2,3,4,5,6,7,8,9,10,11,12,13,14,15,16,17,18,19,20,21,22,23,24,25,26,27,28,29,30,31,32],"range":["black","black","black","black","black","white","white","white"]}}}}
]},
{"width":250,"height":166,"data":{"name":"nt"},"resolve":{"axis":{"y":"independent"}},
"encoding":{"x":{"field":"x","type":"quantitative","scale":{"type":"log","domain":[1,1000000]},"axis":{"title":null,"values":[1,10,100,1000,10000,100000,1000000],"format":"d","labelAngle":-45,"labelAlign":"right","labelBaseline":"top","tickSize":6}}},
"layer":[
{"data":{"values":[{}]},"mark":{"type":"rule","color":"black","strokeWidth":2.2,"strokeDash":[2.2,2.6]},"encoding":{"x":{"datum":1.25,"type":"quantitative"},"x2":{"datum":781250},"y":{"datum":0,"type":"quantitative","axis":{"orient":"left","values":[-10,-5,0,5,10,15,20,25,30,35,40,45,50,55,60,65,70,75,80,85,90,95,100,105,110],"labels":false,"tickSize":2.5,"title":null,"domain":false}}}},
{"transform":[{"filter":"datum.p=='B'&&datum.n>=17&&datum.n<=24"}],"mark":{"type":"line","interpolate":"monotone","color":"black","strokeWidth":1.1},"encoding":{"y":{"field":"f","type":"quantitative","scale":{"domain":[-10,110],"nice":false},"axis":{"orient":"left","title":"Neutralization (%)","titleX":-36,"values":[0,50,100],"tickSize":5}},"detail":{"field":"n","type":"nominal"}}},
{"transform":[{"filter":"datum.p=='B'&&datum.n>=17&&datum.n<=24&&datum.e>0"}],"mark":{"type":"errorbar","color":"black","thickness":1,"ticks":{"size":6}},"encoding":{"y":{"field":"y","type":"quantitative","axis":null},"yError":{"field":"e"}}},
{"transform":[{"filter":"datum.p=='B'&&datum.n>=17&&datum.n<=24&&isValid(datum.y)"}],"mark":{"type":"point","filled":true,"stroke":"black","strokeWidth":1,"opacity":1,"size":36},"encoding":{"y":{"field":"y","type":"quantitative","axis":null},"shape":{"field":"n","type":"nominal","legend":null,"scale":{"domain":[1,2,3,4,5,6,7,8,9,10,11,12,13,14,15,16,17,18,19,20,21,22,23,24,25,26,27,28,29,30,31,32],"range":["circle","square","triangle-up","triangle-down","diamond","circle","square","triangle-up"]}},"fill":{"field":"n","type":"nominal","legend":null,"scale":{"domain":[1,2,3,4,5,6,7,8,9,10,11,12,13,14,15,16,17,18,19,20,21,22,23,24,25,26,27,28,29,30,31,32],"range":["black","black","black","black","black","white","white","white"]}}}}
]},
{"width":44,"height":166,"data":{"name":"lg"},"transform":[{"filter":"datum.n>=17&&datum.n<=24"}],
"encoding":{"y":{"field":"n","type":"quantitative","axis":null,"scale":{"domain":[16.777,24.187],"reverse":true,"nice":false,"zero":false}}},
"layer":[
{"mark":{"type":"rule","color":"black","strokeWidth":1.2},"encoding":{"x":{"datum":0,"type":"quantitative","scale":{"domain":[0,2.2],"nice":false},"axis":null},"x2":{"datum":1}}},
{"mark":{"type":"point","filled":true,"stroke":"black","strokeWidth":1,"opacity":1,"size":36},"encoding":{"x":{"datum":0.5,"type":"quantitative"},"shape":{"field":"n","type":"nominal","legend":null,"scale":{"domain":[1,2,3,4,5,6,7,8,9,10,11,12,13,14,15,16,17,18,19,20,21,22,23,24,25,26,27,28,29,30,31,32],"range":["circle","square","triangle-up","triangle-down","diamond","circle","square","triangle-up"]}},"fill":{"field":"n","type":"nominal","legend":null,"scale":{"domain":[1,2,3,4,5,6,7,8,9,10,11,12,13,14,15,16,17,18,19,20,21,22,23,24,25,26,27,28,29,30,31,32],"range":["black","black","black","black","black","white","white","white"]}}}},
{"mark":{"type":"text","align":"left","baseline":"middle","fontSize":14.5,"color":"black"},"encoding":{"x":{"datum":1.2,"type":"quantitative"},"text":{"field":"n","type":"nominal"}}}
]}
],"spacing":10,"resolve":{"scale":{"x":"independent","y":"independent"}}},
{"hconcat":[
{"width":250,"height":166,"data":{"name":"nt"},"resolve":{"axis":{"y":"independent"}},
"encoding":{"x":{"field":"x","type":"quantitative","scale":{"type":"log","domain":[1,1000000]},"axis":{"title":"Dilution folds","titlePadding":0,"values":[1,10,100,1000,10000,100000,1000000],"format":"d","labelAngle":-45,"labelAlign":"right","labelBaseline":"top","tickSize":6}}},
"layer":[
{"data":{"values":[{}]},"mark":{"type":"rule","color":"black","strokeWidth":2.2,"strokeDash":[2.2,2.6]},"encoding":{"x":{"datum":1.25,"type":"quantitative"},"x2":{"datum":781250},"y":{"datum":0,"type":"quantitative","axis":{"orient":"left","values":[-10,-5,0,5,10,15,20,25,30,35,40,45,50,55,60,65,70,75,80,85,90,95,100,105,110],"labels":false,"tickSize":2.5,"title":null,"domain":false}}}},
{"transform":[{"filter":"datum.p=='A'&&datum.n>=25&&datum.n<=32"}],"mark":{"type":"line","interpolate":"monotone","color":"black","strokeWidth":1.1},"encoding":{"y":{"field":"f","type":"quantitative","scale":{"domain":[-10,110],"nice":false},"axis":{"orient":"left","title":"Neutralization (%)","titleX":-36,"values":[0,50,100],"tickSize":5}},"detail":{"field":"n","type":"nominal"}}},
{"transform":[{"filter":"datum.p=='A'&&datum.n>=25&&datum.n<=32&&datum.e>0"}],"mark":{"type":"errorbar","color":"black","thickness":1,"ticks":{"size":6}},"encoding":{"y":{"field":"y","type":"quantitative","axis":null},"yError":{"field":"e"}}},
{"transform":[{"filter":"datum.p=='A'&&datum.n>=25&&datum.n<=32&&isValid(datum.y)"}],"mark":{"type":"point","filled":true,"stroke":"black","strokeWidth":1,"opacity":1,"size":36},"encoding":{"y":{"field":"y","type":"quantitative","axis":null},"shape":{"field":"n","type":"nominal","legend":null,"scale":{"domain":[1,2,3,4,5,6,7,8,9,10,11,12,13,14,15,16,17,18,19,20,21,22,23,24,25,26,27,28,29,30,31,32],"range":["circle","square","triangle-up","triangle-down","diamond","circle","square","triangle-up"]}},"fill":{"field":"n","type":"nominal","legend":null,"scale":{"domain":[1,2,3,4,5,6,7,8,9,10,11,12,13,14,15,16,17,18,19,20,21,22,23,24,25,26,27,28,29,30,31,32],"range":["black","black","black","black","black","white","white","white"]}}}}
]},
{"width":250,"height":166,"data":{"name":"nt"},"resolve":{"axis":{"y":"independent"}},
"encoding":{"x":{"field":"x","type":"quantitative","scale":{"type":"log","domain":[1,1000000]},"axis":{"title":"Dilution folds","titlePadding":0,"values":[1,10,100,1000,10000,100000,1000000],"format":"d","labelAngle":-45,"labelAlign":"right","labelBaseline":"top","tickSize":6}}},
"layer":[
{"data":{"values":[{}]},"mark":{"type":"rule","color":"black","strokeWidth":2.2,"strokeDash":[2.2,2.6]},"encoding":{"x":{"datum":1.25,"type":"quantitative"},"x2":{"datum":781250},"y":{"datum":0,"type":"quantitative","axis":{"orient":"left","values":[-10,-5,0,5,10,15,20,25,30,35,40,45,50,55,60,65,70,75,80,85,90,95,100,105,110],"labels":false,"tickSize":2.5,"title":null,"domain":false}}}},
{"transform":[{"filter":"datum.p=='B'&&datum.n>=25&&datum.n<=32"}],"mark":{"type":"line","interpolate":"monotone","color":"black","strokeWidth":1.1},"encoding":{"y":{"field":"f","type":"quantitative","scale":{"domain":[-10,110],"nice":false},"axis":{"orient":"left","title":"Neutralization (%)","titleX":-36,"values":[0,50,100],"tickSize":5}},"detail":{"field":"n","type":"nominal"}}},
{"transform":[{"filter":"datum.p=='B'&&datum.n>=25&&datum.n<=32&&datum.e>0"}],"mark":{"type":"errorbar","color":"black","thickness":1,"ticks":{"size":6}},"encoding":{"y":{"field":"y","type":"quantitative","axis":null},"yError":{"field":"e"}}},
{"transform":[{"filter":"datum.p=='B'&&datum.n>=25&&datum.n<=32&&isValid(datum.y)"}],"mark":{"type":"point","filled":true,"stroke":"black","strokeWidth":1,"opacity":1,"size":36},"encoding":{"y":{"field":"y","type":"quantitative","axis":null},"shape":{"field":"n","type":"nominal","legend":null,"scale":{"domain":[1,2,3,4,5,6,7,8,9,10,11,12,13,14,15,16,17,18,19,20,21,22,23,24,25,26,27,28,29,30,31,32],"range":["circle","square","triangle-up","triangle-down","diamond","circle","square","triangle-up"]}},"fill":{"field":"n","type":"nominal","legend":null,"scale":{"domain":[1,2,3,4,5,6,7,8,9,10,11,12,13,14,15,16,17,18,19,20,21,22,23,24,25,26,27,28,29,30,31,32],"range":["black","black","black","black","black","white","white","white"]}}}}
]},
{"width":44,"height":166,"data":{"name":"lg"},"transform":[{"filter":"datum.n>=25&&datum.n<=32"}],
"encoding":{"y":{"field":"n","type":"quantitative","axis":null,"scale":{"domain":[24.884,32.294],"reverse":true,"nice":false,"zero":false}}},
"layer":[
{"mark":{"type":"rule","color":"black","strokeWidth":1.2},"encoding":{"x":{"datum":0,"type":"quantitative","scale":{"domain":[0,2.2],"nice":false},"axis":null},"x2":{"datum":1}}},
{"mark":{"type":"point","filled":true,"stroke":"black","strokeWidth":1,"opacity":1,"size":36},"encoding":{"x":{"datum":0.5,"type":"quantitative"},"shape":{"field":"n","type":"nominal","legend":null,"scale":{"domain":[1,2,3,4,5,6,7,8,9,10,11,12,13,14,15,16,17,18,19,20,21,22,23,24,25,26,27,28,29,30,31,32],"range":["circle","square","triangle-up","triangle-down","diamond","circle","square","triangle-up"]}},"fill":{"field":"n","type":"nominal","legend":null,"scale":{"domain":[1,2,3,4,5,6,7,8,9,10,11,12,13,14,15,16,17,18,19,20,21,22,23,24,25,26,27,28,29,30,31,32],"range":["black","black","black","black","black","white","white","white"]}}}},
{"mark":{"type":"text","align":"left","baseline":"middle","fontSize":14.5,"color":"black"},"encoding":{"x":{"datum":1.2,"type":"quantitative"},"text":{"field":"n","type":"nominal"}}}
]}
],"spacing":10,"resolve":{"scale":{"x":"independent","y":"independent"}}}
],"spacing":0.7,"resolve":{"scale":{"x":"independent","y":"independent"}}},
{"hconcat":[
{"width":244,"height":235,"title":{"text":"(C)","dx":-42.6,"offset":8},"data":{"name":"tt"},
"transform":[{"fold":["FCM","HCIS"],"as":["m","v"]}],
"encoding":{"x":{"field":"m","type":"nominal","scale":{"type":"point","padding":0.45},"axis":{"title":null,"labelAngle":-45,"labelAlign":"right","labelBaseline":"top","tickSize":6}}},
"layer":[
{"transform":[{"bin":{"step":0.15,"anchor":0.05},"field":"v","as":"vb"},{"window":[{"op":"count","as":"one"}],"frame":[0,0]},{"stack":"one","groupby":["m","vb"],"sort":[{"field":"v","order":"ascending"}],"as":["o0","o1"],"offset":"center"}],
"mark":{"type":"point","filled":true,"color":"#ff0000","size":75,"opacity":1},
"encoding":{"y":{"field":"v","type":"quantitative","title":"Neutralizing titer (LgND₅₀)","scale":{"domain":[0,5],"nice":false},"axis":{"title":"Neutralizing titer (LgND₅₀)","titleFontSize":15,"titleX":-21,"values":[0,1,2,3,4,5],"tickSize":6}},"xOffset":{"field":"o0","type":"quantitative","scale":{"domain":[-2.5,1.5],"range":[-15,15]}},"shape":{"field":"m","type":"nominal","legend":null,"scale":{"domain":["FCM","HCIS"],"range":["triangle-up","triangle-down"]}}}},
{"mark":{"type":"tick","color":"#333333","thickness":1.5,"size":83},"encoding":{"y":{"aggregate":"mean","field":"v","type":"quantitative","title":"Neutralizing titer (LgND₅₀)"}}},
{"mark":{"type":"errorbar","extent":"stderr","color":"black","thickness":1.5,"ticks":{"size":43}},"encoding":{"y":{"field":"v","type":"quantitative","title":"Neutralizing titer (LgND₅₀)"}}}
]},
{"width":234,"height":233,"title":{"text":"(D)","dx":-54,"offset":8},"data":{"name":"tt"},
"encoding":{"x":{"field":"FCM","type":"quantitative","scale":{"domain":[1,5],"nice":false},"axis":{"title":"Neutralizing titier (FCM, LgND₅₀)","values":[1,2,3,4,5],"tickSize":6,"titlePadding":7}},"y":{"field":"HCIS","type":"quantitative","scale":{"domain":[1,5],"nice":false},"axis":{"title":"Neutralizing titier (HCIS, LgND₅₀)","titleX":-28,"values":[1,2,3,4,5],"tickSize":6}}},
"layer":[
{"mark":{"type":"point","shape":"circle","color":"#ff0000","strokeWidth":1.3,"size":34,"opacity":1}},
{"transform":[{"regression":"HCIS","on":"FCM"}],"mark":{"type":"line","color":"black","strokeWidth":1.2}},
{"data":{"values":[{"FCM":1.71,"HCIS":4.62,"t":"R²=0.8942"}]},"mark":{"type":"text","align":"left","baseline":"middle","fontSize":15,"color":"black"},"encoding":{"text":{"field":"t","type":"nominal"}}}
]}
],"spacing":25,"resolve":{"scale":{"x":"independent","y":"independent","shape":"independent","fill":"independent"}}}
],
"spacing":5,
"resolve":{"scale":{"x":"independent","y":"independent","shape":"independent","fill":"independent"}},
"config":{
"view":{"stroke":null},
"font":"Liberation Sans",
"axis":{"domainColor":"black","domainWidth":1.5,"tickColor":"black","tickWidth":1.5,"labelColor":"black","titleColor":"black","labelFont":"Liberation Sans","titleFont":"Liberation Sans","titleFontWeight":"normal","grid":false,"labelFontSize":14,"titleFontSize":14,"labelOverlap":false,"labelFlush":false},
"title":{"font":"Liberation Sans","fontSize":16,"fontWeight":"bold","color":"black","anchor":"start","frame":"group"},
"text":{"font":"Liberation Sans"}
}
}
